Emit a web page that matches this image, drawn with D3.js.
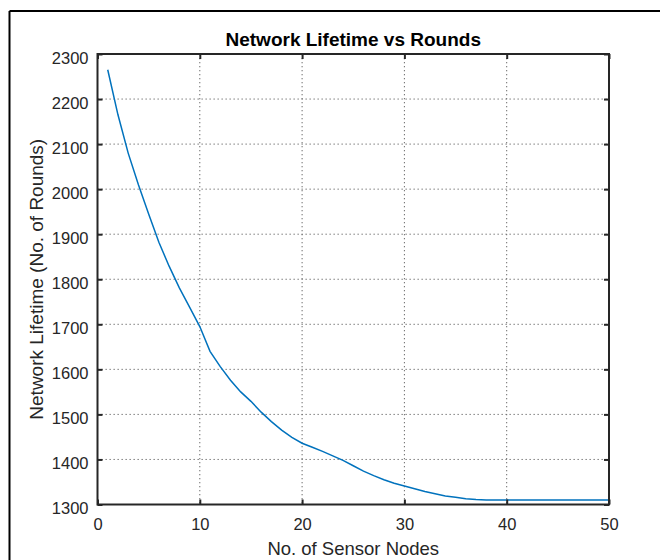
<!DOCTYPE html>
<html>
<head>
<meta charset="utf-8">
<script src="https://cdn.jsdelivr.net/npm/d3@7"></script>
<style>
  html, body { margin: 0; padding: 0; background: #fff; }
  svg text { font-family: "Liberation Sans", Arial, sans-serif; }
</style>
</head>
<body>
<div id="chart"></div>
<script>
(function() {
	// number of sensor nodes on the x axis
	var nodes = [1, 2, 3, 4, 5, 6, 7, 8, 9, 10,
		11, 12, 13, 14, 15, 16, 17, 18, 19, 20,
		21, 22, 23, 24, 25, 26, 27, 28, 29, 30,
		31, 32, 33, 34, 35, 36, 37, 38, 39, 40,
		41, 42, 43, 44, 45, 46, 47, 48, 49, 50];

	// network lifetime
	var lifetime = [2265, 2165, 2080, 2010, 1945, 1882, 1829, 1781, 1738, 1695,
		1640, 1606, 1576, 1550, 1529, 1505, 1484, 1465, 1449, 1436,
		1427, 1418, 1408, 1398, 1386, 1374, 1364, 1355, 1347, 1341,
		1335, 1329, 1324, 1319, 1316, 1313, 1311, 1310, 1310, 1310,
		1310, 1310, 1310, 1310, 1310, 1310, 1310, 1310, 1310, 1310];

	var xTicks = [0, 10, 20, 30, 40, 50];
	var yTicks = [1300, 1400, 1500, 1600, 1700, 1800, 1900, 2000, 2100, 2200, 2300];

	var svgwidth = 660;
	var svgheight = 560;
	var left = 97.5, right = 609, top = 54, bottom = 504.5;
	var axisColor = "#262626";

	var svg = d3.select("#chart")
				.append("svg")
				.attr("width", svgwidth)
				.attr("height", svgheight);

	// outer frame (only top and left edges show)
	svg.append("line").attr("x1", 9.5).attr("y1", 11).attr("x2", svgwidth).attr("y2", 11)
		.attr("stroke", "#000").attr("stroke-width", 2);
	svg.append("line").attr("x1", 9.5).attr("y1", 11).attr("x2", 9.5).attr("y2", svgheight)
		.attr("stroke", "#000").attr("stroke-width", 2);

	var x = d3.scaleLinear().domain([0, 50]).range([left, right]);
	var y = d3.scaleLinear().domain([1300, 2300]).range([bottom, top]);

	// grid
	var grid = svg.append("g");
	grid.selectAll("line.gx")
		.data(xTicks.slice(1, -1))
		.enter().append("line")
		.attr("class", "gx")
		.attr("x1", function(d){ return x(d); })
		.attr("x2", function(d){ return x(d); })
		.attr("y1", top).attr("y2", bottom);
	grid.selectAll("line.gy")
		.data(yTicks.slice(1, -1))
		.enter().append("line")
		.attr("class", "gy")
		.attr("y1", function(d){ return y(d); })
		.attr("y2", function(d){ return y(d); })
		.attr("x1", left).attr("x2", right);
	grid.selectAll("line")
		.attr("stroke", "#6a6a6a")
		.attr("stroke-width", 1)
		.attr("stroke-dasharray", "1.3,2.7");

	// the curve
	var line = d3.line()
		.x(function(d, i){ return x(nodes[i]); })
		.y(function(d){ return y(d); });

	svg.append("path")
		.datum(lifetime)
		.attr("d", line)
		.attr("fill", "none")
		.attr("stroke", "#0072BD")
		.attr("stroke-width", 1.5);

	// axes: ticks inward, on all four sides
	var xAxisB = d3.axisBottom(x).tickValues(xTicks).tickSize(-5).tickFormat(d3.format("d"));
	var xAxisT = d3.axisTop(x).tickValues(xTicks).tickSize(-5).tickFormat("");
	var yAxisL = d3.axisLeft(y).tickValues(yTicks).tickSize(-5).tickFormat(d3.format("d"));
	var yAxisR = d3.axisRight(y).tickValues(yTicks).tickSize(-5).tickFormat("");

	function styleAxis(g) {
		g.select(".domain").remove();
		g.selectAll(".tick line").attr("stroke", axisColor).attr("stroke-width", 2);
		g.selectAll(".tick text")
			.attr("fill", axisColor)
			.style("font-size", "16.5px");
	}

	svg.append("g").attr("transform", "translate(0," + bottom + ")").call(xAxisB).call(styleAxis)
		.selectAll(".tick text").attr("dy", "0.71em").attr("y", 14);
	svg.append("g").attr("transform", "translate(0," + top + ")").call(xAxisT).call(styleAxis);
	svg.append("g").attr("transform", "translate(" + left + ",0)").call(yAxisL).call(styleAxis)
		.selectAll(".tick text").attr("x", -9).attr("dy", "0.56em");
	svg.append("g").attr("transform", "translate(" + right + ",0)").call(yAxisR).call(styleAxis);

	// box
	svg.append("rect")
		.attr("x", left).attr("y", top)
		.attr("width", right - left).attr("height", bottom - top)
		.attr("fill", "none")
		.attr("stroke", axisColor)
		.attr("stroke-width", 2);

	// title and labels
	svg.append("text")
		.attr("x", (left + right) / 2).attr("y", 46)
		.attr("text-anchor", "middle")
		.attr("fill", "#000")
		.style("font-size", "19px")
		.style("font-weight", "bold")
		.text("Network Lifetime vs Rounds");

	svg.append("text")
		.attr("x", (left + right) / 2).attr("y", 555)
		.attr("text-anchor", "middle")
		.attr("fill", axisColor)
		.style("font-size", "18.5px")
		.text("No. of Sensor Nodes");

	svg.append("text")
		.attr("transform", "translate(43," + ((top + bottom) / 2) + ") rotate(-90)")
		.attr("text-anchor", "middle")
		.attr("fill", axisColor)
		.style("font-size", "19px")
		.text("Network Lifetime (No. of Rounds)");
})();
</script>
</body>
</html>
